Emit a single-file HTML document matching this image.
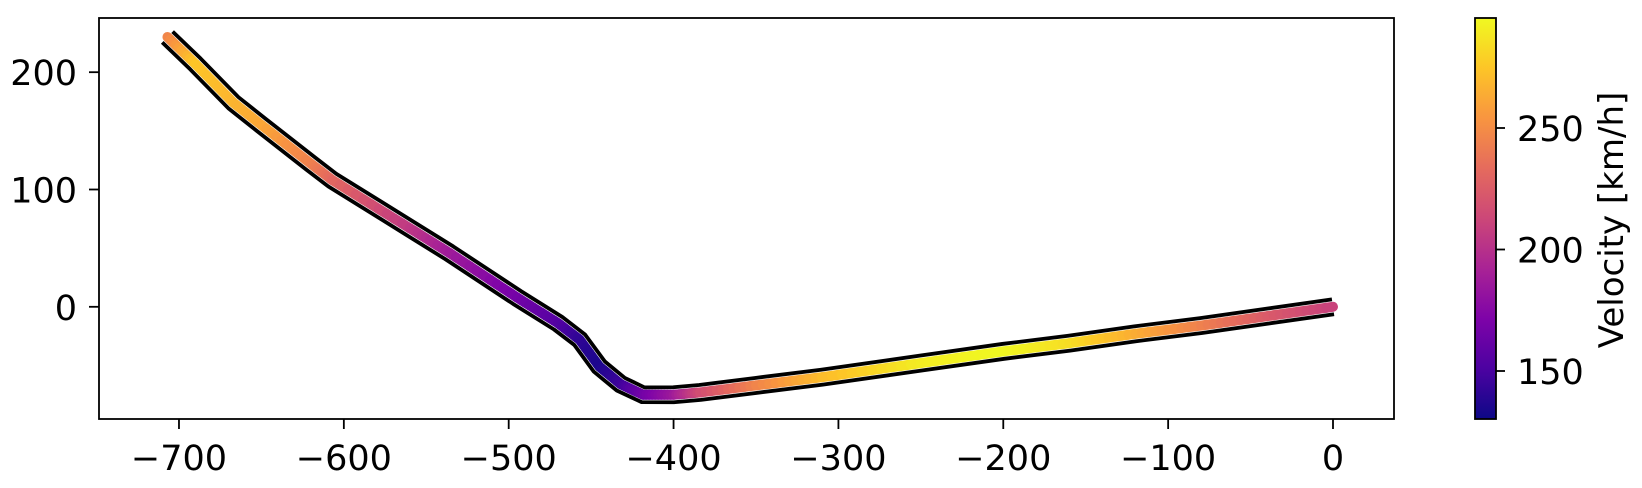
<!DOCTYPE html>
<html><head><meta charset="utf-8"><style>
body{margin:0;background:#fff;}
text{font-family:"DejaVu Sans","Liberation Sans",sans-serif;fill:#000;}
</style></head><body>
<svg id="chart" width="1642" height="483" xmlns="http://www.w3.org/2000/svg">
<defs>
<linearGradient id="plasma" x1="0" y1="1" x2="0" y2="0">
<stop offset="0" stop-color="#0d0887"/><stop offset="0.125" stop-color="#4c02a1"/>
<stop offset="0.25" stop-color="#7e03a8"/><stop offset="0.375" stop-color="#a92395"/>
<stop offset="0.5" stop-color="#cc4778"/><stop offset="0.625" stop-color="#e56b5d"/>
<stop offset="0.75" stop-color="#f89540"/><stop offset="0.875" stop-color="#fdc527"/>
<stop offset="1" stop-color="#f0f921"/></linearGradient>
</defs>
<g id="track"></g>
<rect x="99" y="18" width="1295" height="401" fill="none" stroke="#000" stroke-width="1.8"/>
<g id="axes"></g>
<rect x="1475" y="18" width="21" height="401" fill="url(#plasma)" stroke="#000" stroke-width="1.8"/>
<text transform="translate(1623,220) rotate(-90)" text-anchor="middle" font-size="34">Velocity [km/h]</text>
</svg>
<script>
const xs=[-707,-690,-667,-650,-620,-607,-560,-536,-495,-470,-457,-445,-432,-418.5,-400,-384,-350,-310,-250,-200,-160,-120,-80,-40,0];
const ys=[230,207,174,155,122,108,67,46,8,-14,-28,-51,-66,-75,-75,-73,-67,-60,-48,-38,-31,-23,-16,-8,0];
const vel=[245,275,268,262,245,232,205,188,168,155,142,135,145,165,185,215,245,270,290,295,285,265,245,225,210];
const xTicks=[-700,-600,-500,-400,-300,-200,-100,0];
const yTicks=[0,100,200];
const cTicks=[150,200,250];
const NS='http://www.w3.org/2000/svg';
const X=v=>1333+v*1.6486, Y=v=>306.8-v*1.173, C=v=>371-(v-150)*2.43;
const stops=['#0d0887','#4c02a1','#7e03a8','#a92395','#cc4778','#e56b5d','#f89540','#fdc527','#f0f921'];
function hx(h){return [1,3,5].map(i=>parseInt(h.substr(i,2),16));}
const cmin=150-(419-371)/2.43, cmax=250+(128-18)/2.43;
function cmap(v){let t=Math.max(0,Math.min(1,(v-cmin)/(cmax-cmin)))*8;let i=Math.min(7,Math.floor(t)),f=t-i;
 const a=hx(stops[i]),b=hx(stops[i+1]);return 'rgb('+a.map((c,k)=>Math.round(c+(b[k]-c)*f)).join(',')+')';}
const g=document.getElementById('track'),ax=document.getElementById('axes');
function mk(tag,at,par){const e=document.createElementNS(NS,tag);for(const k in at)e.setAttribute(k,at[k]);par.appendChild(e);return e;}
const P=xs.map((x,i)=>[X(x),Y(ys[i])]);
for(let i=0;i<P.length-1;i++){const n=10;for(let j=0;j<n;j++){const t0=j/n,t1=(j+1)/n;
 const v=vel[i]+(vel[i+1]-vel[i])*(t0+t1)/2;
 const s=mk('line',{x1:P[i][0]+(P[i+1][0]-P[i][0])*t0,y1:P[i][1]+(P[i+1][1]-P[i][1])*t0,x2:P[i][0]+(P[i+1][0]-P[i][0])*t1,y2:P[i][1]+(P[i+1][1]-P[i][1])*t1,stroke:cmap(v),'stroke-width':10,'stroke-linecap':'round'},g);
 
 }}
function offs(d){return P.map((p,i)=>{const a=P[Math.max(0,i-1)],b=P[Math.min(P.length-1,i+1)];
 let dx=b[0]-a[0],dy=b[1]-a[1],L=Math.hypot(dx,dy);return [p[0]-dy/L*d,p[1]+dx/L*d];});}
[[-7.5,'upper-boundary'],[7.5,'lower-boundary']].forEach(([d,nm])=>{
 const pl=mk('polyline',{points:offs(d).map(p=>p.join(',')).join(' '),fill:'none',stroke:'#000','stroke-width':3.8,'stroke-linejoin':'round'},g);
 
 });
xTicks.forEach(v=>{const x=X(v);mk('line',{x1:x,x2:x,y1:419,y2:429,stroke:'#000','stroke-width':1.8},ax);
 const t=mk('text',{x:x,y:470,'text-anchor':'middle','font-size':35},ax);t.textContent=(v<0?'\u2212'+(-v):v);
 
 });
yTicks.forEach(v=>{const y=Y(v);mk('line',{x1:89,x2:99,y1:y,y2:y,stroke:'#000','stroke-width':1.8},ax);
 const t=mk('text',{x:77,y:y+13,'text-anchor':'end','font-size':35},ax);t.textContent=v;
 
 });
cTicks.forEach(v=>{const y=C(v);mk('line',{x1:1496,x2:1505,y1:y,y2:y,stroke:'#000','stroke-width':1.8},ax);
 const t=mk('text',{x:1517,y:y+13,'font-size':35},ax);t.textContent=v;
 
 });
</script>
</body></html>
